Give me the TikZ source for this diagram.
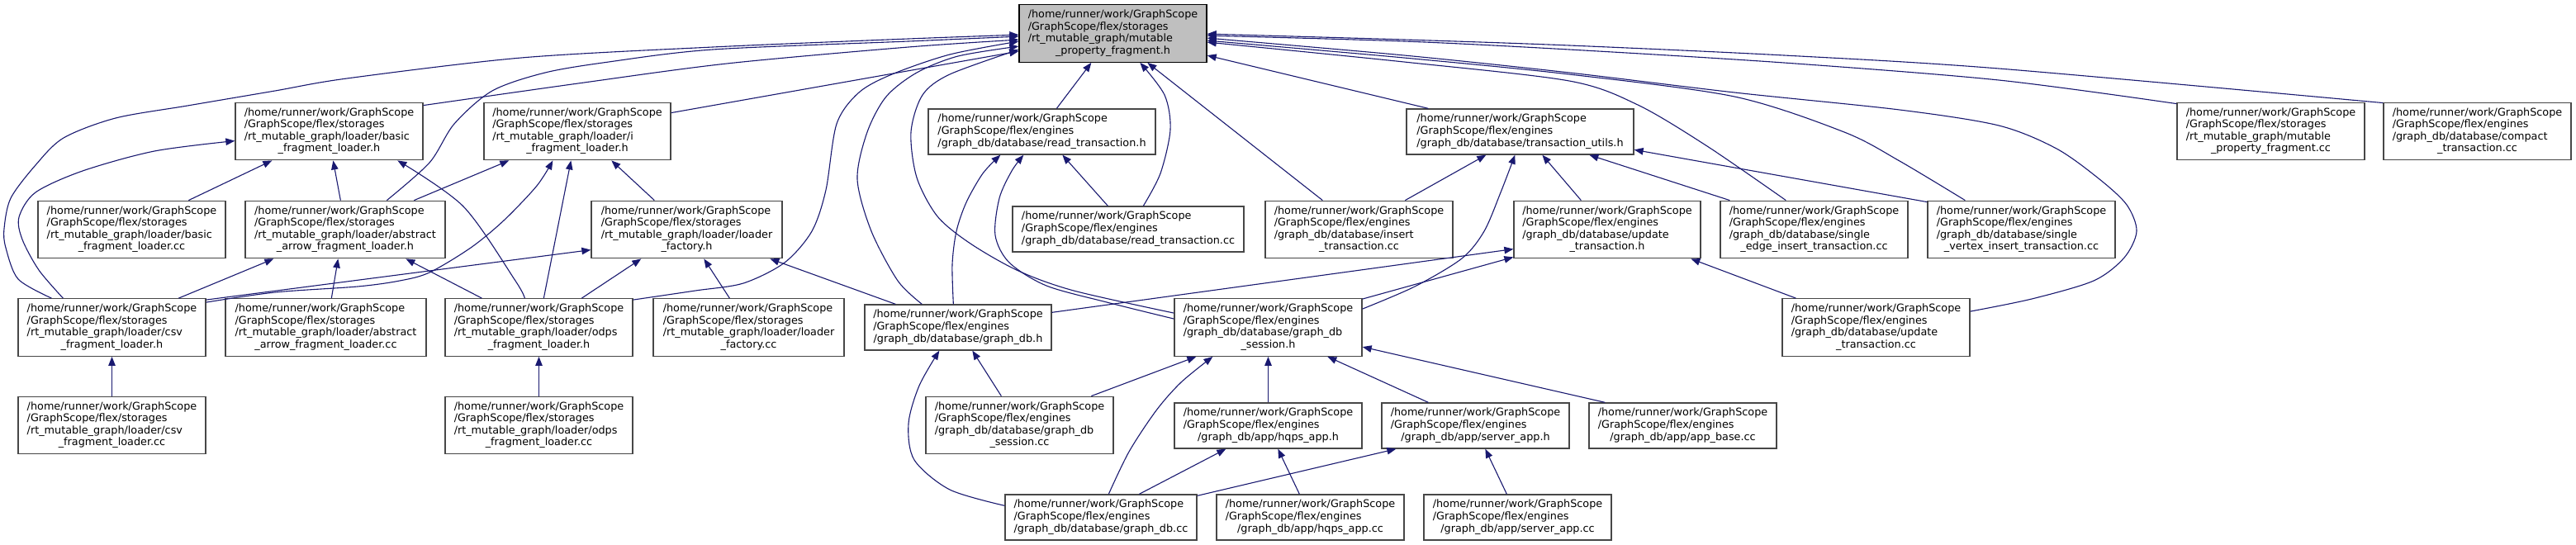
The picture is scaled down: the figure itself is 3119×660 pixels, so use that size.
\documentclass[tikz,border=0pt]{standalone}
\usepackage{fontspec}
\setmainfont{DejaVu Sans}
\usetikzlibrary{arrows.meta,calc}
\definecolor{edgeblue}{HTML}{191970}
\definecolor{mainfill}{HTML}{BFBFBF}
\newcommand\gsh{/home/runner/work/GraphScope}
\newcommand\gss{/GraphScope/flex/storages}
\newcommand\gse{/GraphScope/flex/engines}
\newcommand\flab[4]{\begin{tabular}{@{}l@{}}#1\\#2\\#3\\ \multicolumn{1}{@{}c@{}}{#4}\end{tabular}}
\newcommand\tlab[3]{\begin{tabular}{@{}l@{}}#1\\#2\\ \multicolumn{1}{@{}c@{}}{#3}\end{tabular}}
\tikzset{
  box/.style={draw=black!72, line width=1.3pt, fill=white, inner sep=0pt,
    font=\fontsize{12.8}{14.6}\selectfont, anchor=center},
  fbox/.style={box, minimum height=69.5},
  tbox/.style={box, minimum height=55},
  dep/.style={draw=edgeblue, line width=1.1pt, -{Triangle[length=11pt,width=8.5pt]}},
}
\begin{document}
\begin{tikzpicture}[x=1pt,y=-1pt]
\fill[white] (0,0) rectangle (3119,660);
\useasboundingbox (0,0) rectangle (3119,660);

% level 0
\node[fbox, fill=mainfill, draw=black, minimum width=227] (main) at (1347.5,40.5) {\flab{\gsh}{\gss}{/rt\_mutable\_graph/mutable}{\_property\_fragment.h}};
% level 1
\node[fbox, minimum width=227] (basich) at (398.5,159) {\flab{\gsh}{\gss}{/rt\_mutable\_graph/loader/basic}{\_fragment\_loader.h}};
\node[fbox, minimum width=226] (ifrag) at (699,159) {\flab{\gsh}{\gss}{/rt\_mutable\_graph/loader/i}{\_fragment\_loader.h}};
\node[tbox, minimum width=275] (readh) at (1261.5,159.5) {\tlab{\gsh}{\gse}{/graph\_db/database/read\_transaction.h}};
\node[tbox, minimum width=275] (tutils) at (1840.5,159.5) {\tlab{\gsh}{\gse}{/graph\_db/database/transaction\_utils.h}};
\node[fbox, minimum width=227] (mpf) at (2749.5,159) {\flab{\gsh}{\gss}{/rt\_mutable\_graph/mutable}{\_property\_fragment.cc}};
\node[fbox, minimum width=227] (compact) at (2999.5,159) {\flab{\gsh}{\gse}{/graph\_db/database/compact}{\_transaction.cc}};
% level 2
\node[fbox, minimum width=227] (basiccc) at (159.5,278) {\flab{\gsh}{\gss}{/rt\_mutable\_graph/loader/basic}{\_fragment\_loader.cc}};
\node[fbox, minimum width=242] (absh) at (418,278) {\flab{\gsh}{\gss}{/rt\_mutable\_graph/loader/abstract}{\_arrow\_fragment\_loader.h}};
\node[fbox, minimum width=231] (lfh) at (831.5,278) {\flab{\gsh}{\gss}{/rt\_mutable\_graph/loader/loader}{\_factory.h}};
\node[tbox, minimum width=280] (readcc) at (1366,277.5) {\tlab{\gsh}{\gse}{/graph\_db/database/read\_transaction.cc}};
\node[fbox, minimum width=227] (insertcc) at (1645.5,278) {\flab{\gsh}{\gse}{/graph\_db/database/insert}{\_transaction.cc}};
\node[fbox, minimum width=226] (updh) at (1946,278) {\flab{\gsh}{\gse}{/graph\_db/database/update}{\_transaction.h}};
\node[fbox, minimum width=227] (sedge) at (2196.5,278) {\flab{\gsh}{\gse}{/graph\_db/database/single}{\_edge\_insert\_transaction.cc}};
\node[fbox, minimum width=227] (svert) at (2447.5,278) {\flab{\gsh}{\gse}{/graph\_db/database/single}{\_vertex\_insert\_transaction.cc}};
% level 3
\node[fbox, minimum width=227] (csvh) at (135.5,396.5) {\flab{\gsh}{\gss}{/rt\_mutable\_graph/loader/csv}{\_fragment\_loader.h}};
\node[fbox, minimum width=243] (abscc) at (394.5,396.5) {\flab{\gsh}{\gss}{/rt\_mutable\_graph/loader/abstract}{\_arrow\_fragment\_loader.cc}};
\node[fbox, minimum width=227] (odpsh) at (652.5,396.5) {\flab{\gsh}{\gss}{/rt\_mutable\_graph/loader/odps}{\_fragment\_loader.h}};
\node[fbox, minimum width=231] (lfcc) at (906.5,396.5) {\flab{\gsh}{\gss}{/rt\_mutable\_graph/loader/loader}{\_factory.cc}};
\node[tbox, minimum width=226] (gdbh) at (1160,396.5) {\tlab{\gsh}{\gse}{/graph\_db/database/graph\_db.h}};
\node[fbox, minimum width=227] (sessh) at (1535.5,396.5) {\flab{\gsh}{\gse}{/graph\_db/database/graph\_db}{\_session.h}};
\node[fbox, minimum width=227] (updcc) at (2271.5,396.5) {\flab{\gsh}{\gse}{/graph\_db/database/update}{\_transaction.cc}};
% level 4
\node[fbox, minimum width=227] (csvcc) at (135.5,515) {\flab{\gsh}{\gss}{/rt\_mutable\_graph/loader/csv}{\_fragment\_loader.cc}};
\node[fbox, minimum width=227] (odpscc) at (652.5,515) {\flab{\gsh}{\gss}{/rt\_mutable\_graph/loader/odps}{\_fragment\_loader.cc}};
\node[fbox, minimum width=227] (sesscc) at (1234.5,515) {\flab{\gsh}{\gse}{/graph\_db/database/graph\_db}{\_session.cc}};
\node[tbox, minimum width=227] (hqpsh) at (1535.5,515.5) {\tlab{\gsh}{\gse}{/graph\_db/app/hqps\_app.h}};
\node[tbox, minimum width=227] (serverh) at (1786.5,515.5) {\tlab{\gsh}{\gse}{/graph\_db/app/server\_app.h}};
\node[tbox, minimum width=227] (appbase) at (2037.5,515.5) {\tlab{\gsh}{\gse}{/graph\_db/app/app\_base.cc}};
% level 5
\node[tbox, minimum width=232] (gdbcc) at (1333,626.5) {\tlab{\gsh}{\gse}{/graph\_db/database/graph\_db.cc}};
\node[tbox, minimum width=227] (hqpscc) at (1586.5,626.5) {\tlab{\gsh}{\gse}{/graph\_db/app/hqps\_app.cc}};
\node[tbox, minimum width=227] (servercc) at (1837.5,626.5) {\tlab{\gsh}{\gse}{/graph\_db/app/server\_app.cc}};

% ---- edges ----
\draw[dep] ($(basiccc.north west)+(183,0)$) -- ($(basich.south west)+(45,0)$);
\draw[dep] ($(absh.north west)+(116,0)$) -- ($(basich.south west)+(119,0)$);
\draw[dep] ($(absh.north west)+(205,0)$) -- ($(ifrag.south west)+(31,0)$);
\draw[dep] plot[smooth] coordinates {($(absh.north west)+(172,0)$) (520,197) (550,150) (596,110) (660,88) (737,75) (863,60) (1100,50) ($(main.north west)+(0,39)$)};
\draw[dep] plot[smooth] coordinates {($(csvh.north west)+(41,0)$) (22,338) (7,300) (5,277) (13,240) (43,200) (77,167) (140,143) (227,128) (333,110) (420,95) (631,70) (863,57) (1100,47) ($(main.north west)+(0,37)$)};
\draw[dep] plot[smooth] coordinates {($(csvh.north west)+(55,0)$) (47,327) (27,290) (23,263) (43,233) (100,207) (187,183) ($(basich.north west)+(0,47)$)};
\draw[dep] ($(csvh.north west)+(195,0)$) -- ($(absh.south west)+(35,0)$);
\draw[dep] ($(csvh.north east)+(0,2)$) -- ($(lfh.north west)+(0,60)$);
\draw[dep] plot[smooth] coordinates {($(csvh.north east)+(0,5)$) (333,354) (433,347) (484,340) (520,330) (570,300) (610,267) (650,225) ($(ifrag.south west)+(84,0)$)};
\draw[dep] (csvcc.north) -- (csvh.south);
\draw[dep] ($(abscc.north west)+(129,0)$) -- ($(absh.south west)+(113,0)$);
\draw[dep] ($(odpsh.north west)+(45,0)$) -- ($(absh.south west)+(195,0)$);
\draw[dep] plot[smooth] coordinates {($(odpsh.north west)+(97,0)$) (624,340) (561,250) ($(basich.south west)+(197,0)$)};
\draw[dep] ($(odpsh.north west)+(120,0)$) -- ($(ifrag.south west)+(106,0)$);
\draw[dep] ($(odpsh.north west)+(166,0)$) -- ($(lfh.south west)+(61,0)$);
\draw[dep] plot[smooth] coordinates {($(odpsh.north east)+(0,2)$) (842,352) (900,343) (950,318) (983,280) (1000,230) (1013,150) (1040,112) (1080,90) (1150,66) ($(main.north west)+(0,45)$)};
\draw[dep] (odpscc.north) -- (odpsh.south);
\draw[dep] ($(lfcc.north west)+(93,0)$) -- ($(lfh.south west)+(137,0)$);
\draw[dep] ($(lfh.north west)+(77,0)$) -- ($(ifrag.south west)+(155,0)$);
\draw[dep] ($(gdbh.north west)+(38,0)$) -- ($(lfh.south west)+(217,0)$);
\draw[dep] plot[smooth] coordinates {($(gdbh.north west)+(70,0)$) (1087,340) (1055,280) (1038,217) (1050,160) (1073,117) (1110,88) (1160,68) ($(main.north west)+(0,51)$)};
\draw[dep] plot[smooth] coordinates {($(gdbh.north west)+(108,0)$) (1153,320) (1158,280) (1170,245) (1190,210) ($(readh.south west)+(88,0)$)};
\draw[dep] ($(gdbh.north east)+(0,10)$) -- ($(updh.north west)+(0,59)$);
\draw[dep] ($(sesscc.north west)+(92,0)$) -- ($(gdbh.south west)+(131,0)$);
\draw[dep] plot[smooth] coordinates {($(gdbcc.north west)+(0,14)$) (1150,593) (1107,557) (1100,513) (1113,467) ($(gdbh.south west)+(91,0)$)};
\draw[dep] plot[smooth] coordinates {($(sessh.north west)+(0,18)$) (1300,352) (1233,328) (1175,295) (1135,262) (1110,215) (1103,160) (1117,115) (1150,90) ($(main.north west)+(0,55)$)};
\draw[dep] plot[smooth] coordinates {($(sessh.north west)+(0,25)$) (1340,366) (1267,346) (1222,318) (1205,285) (1210,240) (1225,207) ($(readh.south west)+(116,0)$)};
\draw[dep] plot[smooth] coordinates {($(sessh.north east)+(0,13)$) (1713,347) (1770,313) (1797,280) (1817,233) ($(tutils.south west)+(132,0)$)};
\draw[dep] ($(sessh.north east)+(0,1)$) -- ($(updh.south west)+(0,-2)$);
\draw[dep] ($(sesscc.north west)+(201,0)$) -- ($(sessh.south west)+(27,0)$);
\draw[dep] plot[smooth] coordinates {($(gdbcc.north west)+(126,0)$) (1367,547) (1400,497) (1430,463) ($(sessh.south west)+(47,0)$)};
\draw[dep] (hqpsh.north) -- (sessh.south);
\draw[dep] ($(serverh.north west)+(57,0)$) -- ($(sessh.south west)+(186,0)$);
\draw[dep] ($(appbase.north west)+(20,0)$) -- ($(sessh.north east)+(0,59)$);
\draw[dep] ($(gdbcc.north west)+(163,0)$) -- ($(hqpsh.south west)+(63,0)$);
\draw[dep] ($(hqpscc.north west)+(101,0)$) -- ($(hqpsh.south west)+(126,0)$);
\draw[dep] ($(gdbcc.north east)+(0,2)$) -- ($(serverh.south west)+(18,0)$);
\draw[dep] ($(servercc.north west)+(101,0)$) -- ($(serverh.south west)+(126,0)$);
\draw[dep] ($(readcc.north west)+(116,0)$) -- ($(readh.south west)+(163,0)$);
\draw[dep] ($(readh.north west)+(156,0)$) -- ($(main.south west)+(88,0)$);
\draw[dep] plot[smooth] coordinates {($(readcc.north west)+(159,0)$) (1405,210) (1417,157) (1410,115) ($(main.south west)+(147,0)$)};
\draw[dep] ($(insertcc.north west)+(70,0)$) -- ($(main.south west)+(156,0)$);
\draw[dep] ($(tutils.north west)+(27,0)$) -- ($(main.north east)+(0,62)$);
\draw[dep] ($(insertcc.north west)+(170,0)$) -- ($(tutils.south west)+(97,0)$);
\draw[dep] ($(updh.north west)+(82,0)$) -- ($(tutils.south west)+(165,0)$);
\draw[dep] ($(sedge.north west)+(12,0)$) -- ($(tutils.south west)+(222,0)$);
\draw[dep] ($(svert.north west)+(0,2)$) -- ($(tutils.north east)+(0,50)$);
\draw[dep] ($(updcc.north west)+(17,0)$) -- ($(updh.south west)+(215,0)$);
\draw[dep] plot[smooth] coordinates {($(updcc.north east)+(0,16)$) (2460,362) (2535,340) (2572,312) (2587,280) (2575,248) (2542,217) (2490,180) (2420,152) (2300,133) (2100,112) (1900,88) (1700,67) ($(main.north east)+(0,41)$)};
\draw[dep] plot[smooth] coordinates {($(svert.north west)+(46,0)$) (2300,195) (2233,160) (2100,117) (1900,90) (1700,70) ($(main.north east)+(0,44)$)};
\draw[dep] plot[smooth] coordinates {($(sedge.north west)+(80,0)$) (2067,177) (1983,127) (1900,98) (1700,75) ($(main.north east)+(0,46)$)};
\draw[dep] plot[smooth] coordinates {($(mpf.north west)+(0,2)$) (2420,97) (2160,76) (1900,60) (1700,50) ($(main.north east)+(0,38)$)};
\draw[dep] plot[smooth] coordinates {($(compact.north west)+(0,1)$) (2420,83) (2160,67) (1900,55) (1700,48) ($(main.north east)+(0,36)$)};
\draw[dep] ($(ifrag.north east)+(0,13)$) -- ($(main.north west)+(0,57)$);
\draw[dep] plot[smooth] coordinates {($(basich.north east)+(0,4)$) (700,101) (880,77) (1100,57) ($(main.north west)+(0,43)$)};
\end{tikzpicture}
\end{document}
